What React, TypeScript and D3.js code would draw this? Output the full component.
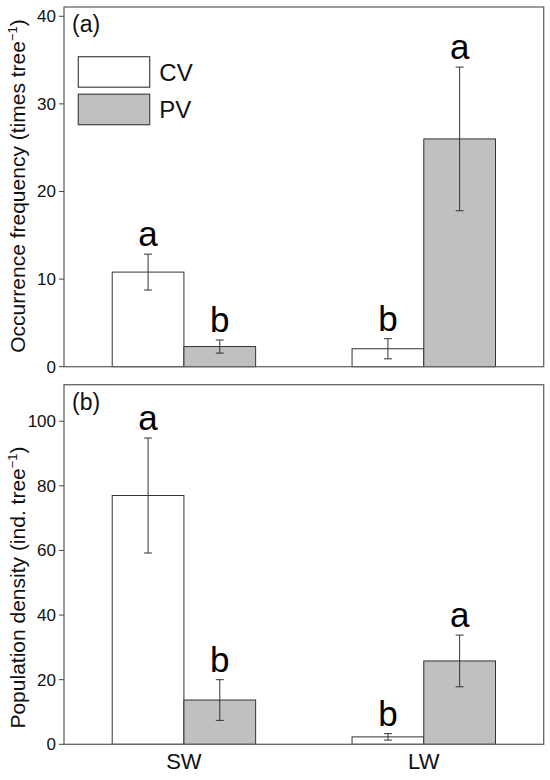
import * as d3 from 'd3';

const sites = ['SW', 'LW'];
const varieties = ['CV', 'PV'];
const fills: Record<string, string> = { CV: '#ffffff', PV: '#c0c0c0' };

// panel (a) occurrence frequency
const freqMean = [
  [10.8, 2.3],
  [2.05, 26.0],
];
const freqErr = [
  [2.05, 0.75],
  [1.15, 8.2],
];
const freqLetters = [
  ['a', 'b'],
  ['b', 'a'],
];
const freqTicks = [0, 10, 20, 30, 40];

// panel (b) population density
const densMean = [
  [77.0, 13.7],
  [2.3, 25.8],
];
const densErr = [
  [17.8, 6.3],
  [1.0, 8.0],
];
const densLetters = [
  ['a', 'b'],
  ['b', 'a'],
];
const densTicks = [0, 20, 40, 60, 80, 100];

const W = 550;
const H = 780;
const left = 64;
const right = 543.7;
const font = "'Liberation Sans', Arial, sans-serif";

const x0 = d3.scaleBand<string>().domain(sites).range([left, right]).padding(0);
const groupW = x0.bandwidth() * 0.598;
const x1 = d3.scaleBand<string>().domain(varieties).range([0, groupW]).padding(0);

type PanelProps = {
  top: number;
  bottom: number;
  max: number;
  ticks: number[];
  mean: number[][];
  err: number[][];
  letters: string[][];
  tag: string;
  label: string;
  labelY: number;
  legend?: boolean;
  xLabels?: boolean;
};

function Panel(p: PanelProps) {
  const y = d3.scaleLinear().domain([0, p.max]).range([p.bottom, p.top]);
  return (
    <g>
      {sites.map((s, i) => {
        const gx = x0(s)! + x0.bandwidth() / 2 - groupW / 2;
        return varieties.map((v, j) => {
          const bx = gx + x1(v)!;
          const cx = bx + x1.bandwidth() / 2;
          const m = p.mean[i][j];
          const e = p.err[i][j];
          return (
            <g key={s + v}>
              <rect
                x={bx}
                y={y(m)}
                width={x1.bandwidth()}
                height={y(0) - y(m)}
                fill={fills[v]}
                stroke="#333"
                strokeWidth={1}
              />
              <line x1={cx} x2={cx} y1={y(m + e)} y2={y(m - e)} stroke="#333" strokeWidth={1} />
              <line x1={cx - 4} x2={cx + 4} y1={y(m + e)} y2={y(m + e)} stroke="#333" strokeWidth={1} />
              <line x1={cx - 4} x2={cx + 4} y1={y(m - e)} y2={y(m - e)} stroke="#333" strokeWidth={1} />
              <text x={cx} y={y(m + e) - 8} textAnchor="middle" fontSize={35} fill="#000">
                {p.letters[i][j]}
              </text>
            </g>
          );
        });
      })}
      <rect
        x={left}
        y={p.top}
        width={right - left}
        height={p.bottom - p.top}
        fill="none"
        stroke="#666"
        strokeWidth={1.3}
      />
      {p.ticks.map((t) => (
        <g key={t}>
          <line x1={left - 5} x2={left} y1={y(t)} y2={y(t)} stroke="#444" strokeWidth={1} />
          <text x={left - 8} y={y(t)} dy="0.35em" textAnchor="end" fontSize={17} fill="#111">
            {t}
          </text>
        </g>
      ))}
      <text x={left + 8} y={p.top + 25} fontSize={23} fill="#111">
        {p.tag}
      </text>
      <text
        transform={`translate(25,${p.labelY}) rotate(-90)`}
        textAnchor="middle"
        fontSize={21}
        fill="#111"
      >
        {p.label}
        <tspan fontSize={13} dy={-8}>
          −1
        </tspan>
        <tspan dy={8}>)</tspan>
      </text>
      {p.legend &&
        varieties.map((v, j) => (
          <g key={v} transform={`translate(78.3,${56.7 + j * 37.5})`}>
            <rect width={71.4} height={30.5} fill={fills[v]} stroke="#444" strokeWidth={1.2} />
            <text x={81} y={15.5} dy="0.35em" fontSize={24} fill="#111">
              {v}
            </text>
          </g>
        ))}
      {p.xLabels &&
        sites.map((s) => (
          <text
            key={s}
            x={x0(s)! + x0.bandwidth() / 2}
            y={p.bottom + 25}
            textAnchor="middle"
            fontSize={22}
            fill="#111"
          >
            {s}
          </text>
        ))}
    </g>
  );
}

export default function App() {
  return (
    <svg
      width={W}
      height={H}
      style={{ position: 'absolute', left: 0, top: 0, background: '#fff' }}
      fontFamily={font}
    >
      <Panel
        top={7}
        bottom={366.7}
        max={41.06}
        ticks={freqTicks}
        mean={freqMean}
        err={freqErr}
        letters={freqLetters}
        tag="(a)"
        label="Occurrence frequency (times tree"
        labelY={186}
        legend
      />
      <Panel
        top={384.7}
        bottom={744.3}
        max={111.3}
        ticks={densTicks}
        mean={densMean}
        err={densErr}
        letters={densLetters}
        tag="(b)"
        label="Population density (ind. tree"
        labelY={587.5}
        xLabels
      />
    </svg>
  );
}
